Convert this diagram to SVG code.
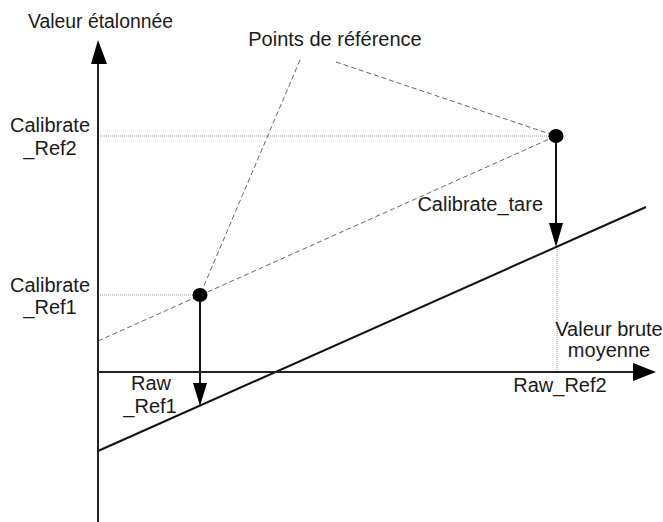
<svg xmlns="http://www.w3.org/2000/svg" width="663" height="522" viewBox="0 0 663 522">
<style>
text{font-family:"Liberation Sans",Arial,sans-serif;font-size:20px;fill:#1a1a1a}
.axis{stroke:#222;stroke-width:2;fill:none}
.solid{stroke:#111;stroke-width:2;fill:none}
.dash{stroke:#666;stroke-width:1;stroke-dasharray:5 3;fill:none}
.dot{stroke:#999;stroke-width:1;stroke-dasharray:1 1;fill:none}
.head{fill:#000}
</style>
<rect width="663" height="522" fill="#fff"/>
<g id="connectors">
<line class="dot" x1="98" y1="136" x2="556" y2="136"/>
<line class="dot" x1="98" y1="295" x2="200" y2="295"/>
<line class="dot" x1="557" y1="247" x2="557" y2="372"/>
<line class="dash" x1="98" y1="341" x2="556" y2="136"/>
<line class="dash" x1="300" y1="60" x2="200" y2="295"/>
<line class="dash" x1="336" y1="62" x2="556" y2="136"/>
<line class="solid" x1="98" y1="451" x2="646" y2="207"/>
<line class="solid" x1="200" y1="295" x2="200" y2="385"/>
<polygon class="head" points="193,383 207,383 200,406"/>
<line class="solid" x1="556" y1="136" x2="556" y2="225"/>
<polygon class="head" points="549,223 563,223 556,247"/>
</g>
<g id="y-axis">
<line class="axis" x1="98" y1="60" x2="98" y2="522"/>
<polygon class="head" points="91,64 107,64 98,40"/>
<text x="28" y="28" textLength="145" lengthAdjust="spacingAndGlyphs">Valeur étalonnée</text>
</g>
<g id="x-axis">
<line class="axis" x1="98" y1="372" x2="636" y2="372"/>
<polygon class="head" points="633,363 633,381 656,372"/>
<text x="609" y="336" text-anchor="middle">Valeur brute</text>
<text x="609" y="357" text-anchor="middle">moyenne</text>
</g>
<g id="points-label"><text x="335" y="46" text-anchor="middle">Points de référence</text></g>
<g id="point1"><ellipse cx="200" cy="295" rx="7.5" ry="7"/></g>
<g id="point2"><ellipse cx="556" cy="136" rx="7.5" ry="7"/></g>
<g id="cal-ref2"><text x="50" y="132" text-anchor="middle">Calibrate</text><text x="50" y="155" text-anchor="middle">_Ref2</text></g>
<g id="cal-ref1"><text x="50" y="292" text-anchor="middle">Calibrate</text><text x="50" y="314" text-anchor="middle">_Ref1</text></g>
<g id="cal-tare"><text x="543" y="211" text-anchor="end">Calibrate_tare</text></g>
<g id="raw-ref1"><text x="151" y="390" text-anchor="middle">Raw</text><text x="150" y="413" text-anchor="middle">_Ref1</text></g>
<g id="raw-ref2"><text x="560" y="392" text-anchor="middle">Raw_Ref2</text></g>
</svg>
